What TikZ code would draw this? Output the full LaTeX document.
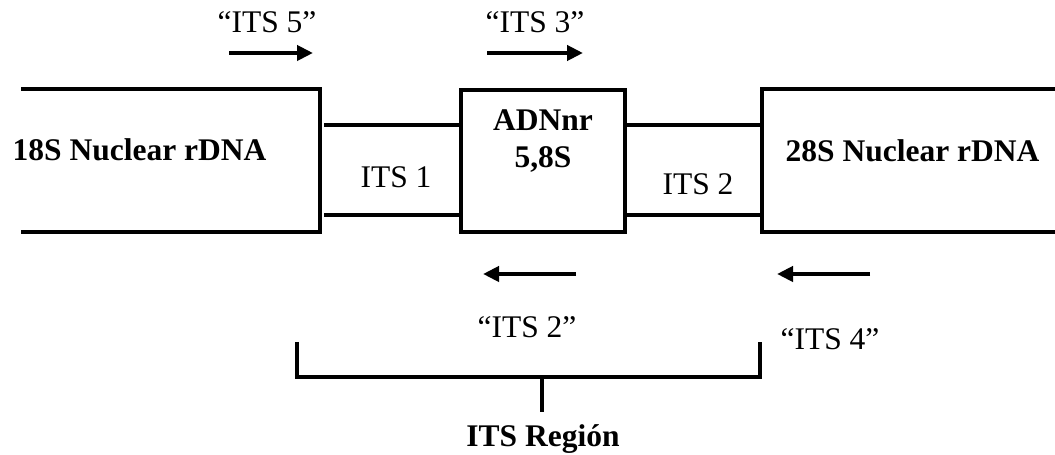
\documentclass[tikz,border=0pt]{standalone}
\usepackage{fontspec}
\setmainfont{Liberation Serif}
\usetikzlibrary{arrows.meta}
\begin{document}
\begin{tikzpicture}[x=1pt,y=1pt,
  seg/.style={line width=3.5pt},
  primer/.style={line width=4pt,-{Triangle[length=16pt,width=15pt]}},
  lbl/.style={inner sep=0pt,anchor=base,font=\fontsize{31.5}{37}\selectfont},
  blbl/.style={lbl,font=\fontsize{31.5}{37}\selectfont\bfseries}]
\useasboundingbox (0,0) rectangle (1055,455);
% left 18S block
\coordinate (l1) at (21,366);
\coordinate (l2) at (320,366);
\coordinate (l3) at (320,223);
\coordinate (l4) at (21,223);
\draw[seg] (l1) -- (l2) -- (l3) -- (l4);
% middle 5.8S block
\node[seg,draw,minimum width=164pt,minimum height=142pt,inner sep=0pt] (mid) at (543,294) {};
% right 28S block
\coordinate (r1) at (1056,366);
\coordinate (r2) at (762,366);
\coordinate (r3) at (762,223);
\coordinate (r4) at (1056,223);
\draw[seg] (r1) -- (r2) -- (r3) -- (r4);
% ITS1 lines
\coordinate (a1) at (324,330);
\coordinate (a2) at (324,240);
\draw[seg] (a1) -- (a1 -| mid.west);
\draw[seg] (a2) -- (a2 -| mid.west);
% ITS2 lines
\draw[seg] (mid.east |- a1) -- (a1 -| r2);
\draw[seg] (mid.east |- a2) -- (a2 -| r2);
% texts
\node[blbl] (t18) at (139.5,294) {18S Nuclear rDNA};
\node[lbl] (its1) at (396,267) {ITS 1};
\node[blbl] (adn) at (543,324) {ADNnr};
\node[blbl] (s58) at (543,287) {5,8S};
\node[lbl] (its2) at (698,260) {ITS 2};
\node[blbl] (t28) at (912.5,293) {28S Nuclear rDNA};
% primers
\node[lbl] (p5) at (267,422) {“ITS 5”};
\node[lbl] (p3) at (535,422) {“ITS 3”};
\coordinate (p5a) at (229,402);
\coordinate (p5b) at (313,402);
\coordinate (p3a) at (487,402);
\coordinate (p3b) at (583,402);
\draw[primer] (p5a) -- (p5b);
\draw[primer] (p3a) -- (p3b);
\coordinate (p2a) at (576,181);
\coordinate (p2b) at (483,181);
\coordinate (p4a) at (870,181);
\coordinate (p4b) at (777,181);
\draw[primer] (p2a) -- (p2b);
\draw[primer] (p4a) -- (p4b);
\node[lbl] (p2) at (527,117) {“ITS 2”};
\node[lbl] (p4) at (830,105) {“ITS 4”};
% bracket
\coordinate (b1) at (297,113);
\coordinate (b2) at (297,78);
\coordinate (b3) at (760,78);
\coordinate (b4) at (760,113);
\coordinate (s1) at (542,78);
\node[blbl] (reg) at (543,8) {ITS Región};
\draw[seg] (b1) -- (b2) -- (b3) -- (b4);
\draw[seg] (s1) -- (542,43);
\end{tikzpicture}
\end{document}
